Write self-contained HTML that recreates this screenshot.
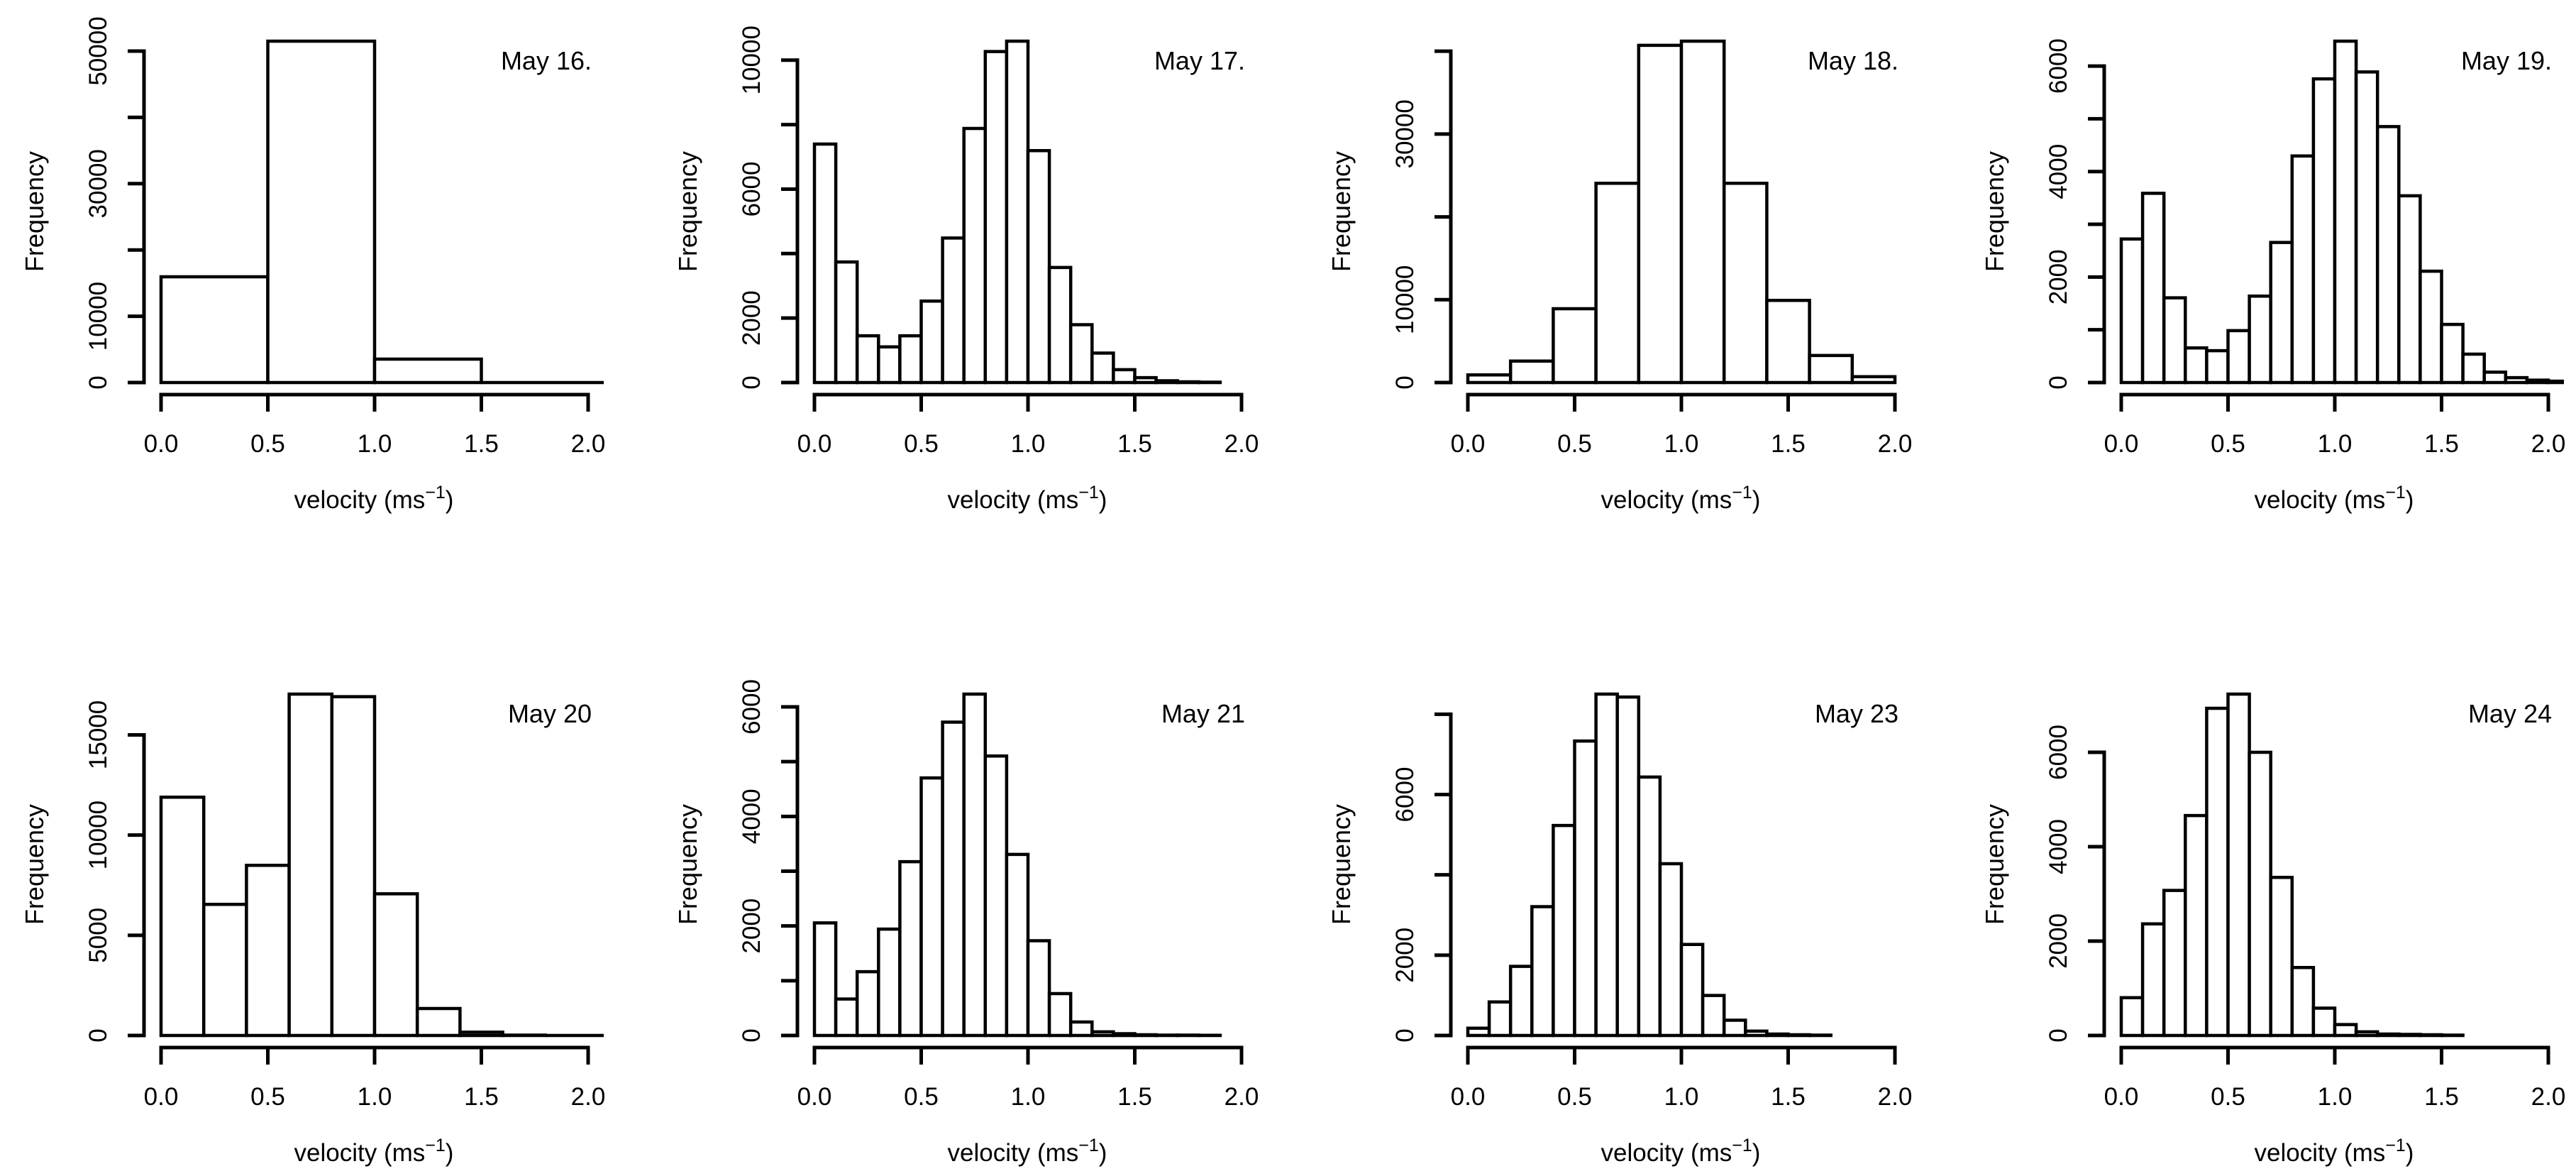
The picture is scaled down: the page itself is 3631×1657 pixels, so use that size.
<!DOCTYPE html>
<html><head><meta charset="utf-8"><style>
html,body{margin:0;padding:0;background:#fff;}
svg{display:block;}
text{font-family:"Liberation Sans",Arial,sans-serif;fill:#000;}
</style></head>
<body>
<svg id="fig" width="3631" height="1657" viewBox="0 0 3631 1657" xmlns="http://www.w3.org/2000/svg"></svg>
<script>
// ---- data ----
const panelTitles = ["May 16.","May 17.","May 18.","May 19.","May 20","May 21","May 23","May 24"];
const binWidths = [0.5, 0.1, 0.2, 0.1, 0.2, 0.1, 0.1, 0.1];
const may16Values = [15950, 51500, 3530, 0, 0];
const may17Values = [7396,3741,1451,1107,1451,2526,4483,7880,10266,10589,7192,3569,1795,914,398,150,54,21,10];
const may18Values = [920,2594,8912,24058,40711,41213,24058,9916,3264,711];
const may19Values = [2721,3587,1606,656,603,984,1639,2656,4295,5757,6472,5888,4852,3541,2111,1102,538,197,92,46,26];
const may20Values = [11890,6545,8490,17035,16907,7072,1345,164,18,0,0];
const may21Values = [2055,665,1164,1942,3173,4703,5721,6233,5102,3306,1730,765,246,67,33,13,7,7,3];
const may23Values = [181,834,1722,3208,5229,7332,8501,8429,6435,4278,2266,997,381,109,36,18,9];
const may24Values = [801,2364,3073,4660,6932,7232,6000,3350,1440,578,231,77,31,23,15,8];
const may16Ticks = [0,10000,20000,30000,40000,50000];
const may16Labels = [0,10000,30000,50000];
const may17Ticks = [0,2000,4000,6000,8000,10000];
const may17Labels = [0,2000,6000,10000];
const may18Ticks = [0,10000,20000,30000,40000];
const may18Labels = [0,10000,30000];
const may19Ticks = [0,1000,2000,3000,4000,5000,6000];
const may19Labels = [0,2000,4000,6000];
const may20Ticks = [0,5000,10000,15000];
const may20Labels = [0,5000,10000,15000];
const may21Ticks = [0,1000,2000,3000,4000,5000,6000];
const may21Labels = [0,2000,4000,6000];
const may23Ticks = [0,2000,4000,6000,8000];
const may23Labels = [0,2000,6000];
const may24Ticks = [0,2000,4000,6000];
const may24Labels = [0,2000,4000,6000];
const xTicks = [0, 0.5, 1.0, 1.5, 2.0];
const xTickLabels = ["0.0","0.5","1.0","1.5","2.0"];

const allValues = [may16Values,may17Values,may18Values,may19Values,may20Values,may21Values,may23Values,may24Values];
const allTicks = [may16Ticks,may17Ticks,may18Ticks,may19Ticks,may20Ticks,may21Ticks,may23Ticks,may24Ticks];
const allLabels = [may16Labels,may17Labels,may18Labels,may19Labels,may20Labels,may21Labels,may23Labels,may24Labels];

// ---- layout ----
const NS = "http://www.w3.org/2000/svg";
const svg = document.getElementById("fig");
const COLW = 921, ROWH = 920;
const X0 = 227, PXU = 301;
const BASE = 539, TOP = 58;
const CLIPR = 624;

function mk(tag, attrs, parent){
  const e = document.createElementNS(NS, tag);
  for (const k in attrs) e.setAttribute(k, attrs[k]);
  parent.appendChild(e);
  return e;
}
const defs = mk("defs", {}, svg);

for (let p = 0; p < 8; p++){
  const col = p % 4, row = Math.floor(p / 4);
  const ox = col * COLW, oy = row * ROWH;
  const vals = allValues[p], w = binWidths[p];
  const maxV = Math.max(...vals);
  const xs = v => ox + X0 + v * PXU;
  const ys = v => oy + BASE - (BASE - TOP) * v / maxV;

  const cp = mk("clipPath", {id: "clip" + p}, defs);
  mk("rect", {x: ox + X0 - 30, y: oy, width: CLIPR + 30, height: 600}, cp);

  const g = mk("g", {}, svg);
  
  

  const bars = mk("g", {"clip-path": "url(#clip" + p + ")"}, g);
  
  
  vals.forEach((v, i) => {
    const x1 = xs(i * w), x2 = xs((i + 1) * w), yt = ys(v), yb = ys(0);
    const r = mk("path", {d: `M${x1},${yb} L${x1},${yt} L${x2},${yt} L${x2},${yb} Z`,
      fill: "#fff", stroke: "#000", "stroke-width": 4.5, "stroke-linejoin":"miter"}, bars);
    
    
  });

  const yAxis = mk("g", {}, g);
  
  
  const ticks = allTicks[p];
  const axX = ox + 203;
  mk("line", {x1: axX, x2: axX, y1: ys(ticks[0]), y2: ys(ticks[ticks.length-1]), stroke:"#000","stroke-width":5,"stroke-linecap":"square"}, yAxis);
  ticks.forEach(t => {
    mk("line", {x1: axX - 23, x2: axX, y1: ys(t), y2: ys(t), stroke:"#000","stroke-width":5}, yAxis);
  });
  allLabels[p].forEach(t => {
    const tx = mk("text", {x: 0, y: 0, "font-size": 35, "text-anchor": "middle",
      transform: `translate(${ox + 150},${ys(t)}) rotate(-90)`}, yAxis);
    tx.textContent = String(t);
    
    
  });
  const yt = mk("text", {x:0, y:0, "font-size": 36, "text-anchor":"middle",
    transform:`translate(${ox + 61},${oy + 298}) rotate(-90)`}, g);
  yt.textContent = "Frequency";
  
  

  const xAxis = mk("g", {}, g);
  
  
  const axY = oy + 556;
  mk("line", {x1: xs(xTicks[0]), x2: xs(xTicks[xTicks.length-1]), y1: axY, y2: axY, stroke:"#000","stroke-width":5,"stroke-linecap":"square"}, xAxis);
  xTicks.forEach((t, i) => {
    mk("line", {x1: xs(t), x2: xs(t), y1: axY, y2: axY + 24, stroke:"#000","stroke-width":5}, xAxis);
    const tl = mk("text", {x: xs(t), y: oy + 637, "font-size": 35, "text-anchor":"middle"}, xAxis);
    tl.textContent = xTickLabels[i];
    
    
  });
  const xt = mk("text", {x: ox + X0 + 300, y: oy + 716, "font-size": 35, "text-anchor":"middle"}, g);
  
  
  xt.appendChild(document.createTextNode("velocity (ms"));
  const sup = mk("tspan", {"font-size": 25, dy: -14}, xt);
  sup.textContent = "\u22121";
  const cl = mk("tspan", {"font-size": 35, dy: 14}, xt);
  cl.textContent = ")";

  const ttl = mk("text", {x: ox + X0 + 607, y: oy + 98, "font-size": 36, "text-anchor":"end"}, g);
  ttl.textContent = panelTitles[p];
  
  
}
</script>
</body></html>
